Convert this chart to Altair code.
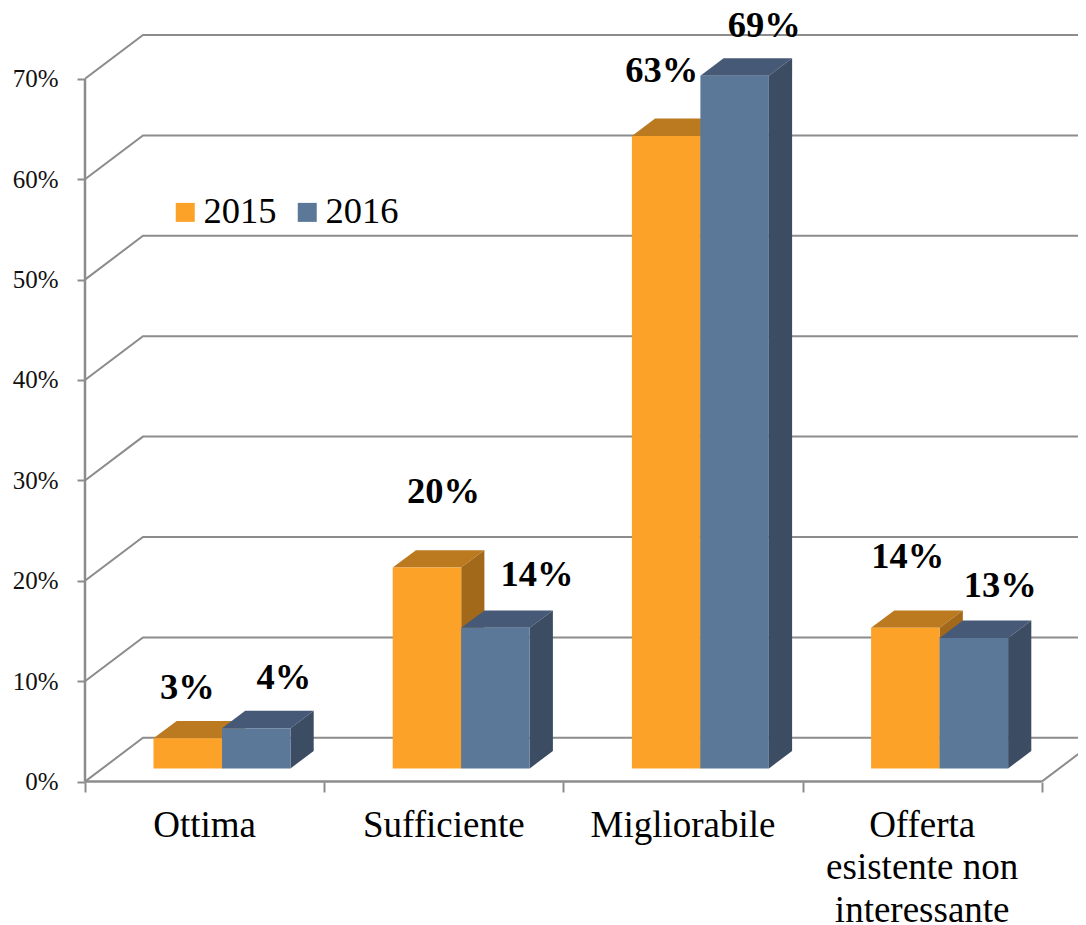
import altair as alt
import pandas as pd

# ---- chart values ----
categories = ["Ottima", "Sufficiente", "Migliorabile", "Offerta\nesistente non\ninteressante"]
years = ["2015", "2016"]
values_2015 = [3, 20, 63, 14]
values_2016 = [4, 14, 69, 13]
y_ticks = [0, 10, 20, 30, 40, 50, 60, 70]
x_ticks = [0, 1, 2, 3, 4]

# label nudges relative to each bar's top-back centre, in pixels (2015 then 2016 per category)
label_dx = {"2015": [-0.5, 16.5, -4.5, 2.5], "2016": [27.5, 41.5, 29.5, 26.5]}
label_dy = {"2015": [22, 47, 36, 42], "2016": [22, 24, 21, 23]}

# ---- look ----
PX_X = 239.2          # px per category
PX_Y = 10.04          # px per percent
W, H = 993, 774
XMAX = W / PX_X
YMIN = -0.04
YMAX = YMIN + H / PX_Y
DEPTH_X = 58 / PX_X   # wall depth
DEPTH_Y = 43.8 / PX_Y
BAR_LEFT = 68.5 / PX_X
BAR_W = 68.5 / PX_X
BAR_BASE = 13.2 / PX_Y
BAR_DX = 23.2 / PX_X
BAR_DY = 17.4 / PX_Y
GRAY = "#8C8C8C"
FONT = "Liberation Serif"
FRONT = {"2015": "#FCA228", "2016": "#5B7899"}
TOP = {"2015": "#BB7A1F", "2016": "#465A77"}
SIDE = {"2015": "#A2691A", "2016": "#3B4C63"}

xs = alt.Scale(domain=[0, XMAX], nice=False, zero=False)
ys = alt.Scale(domain=[YMIN, YMAX], nice=False, zero=False)
x_axis = alt.Axis(values=x_ticks, labels=False, domain=False, grid=False, title=None,
                  ticks=True, tickSize=10, tickColor=GRAY, tickWidth=2)
y_axis = alt.Axis(values=y_ticks, labelExpr="datum.value + '%'", domain=False, grid=False, title=None,
                  ticks=True, tickSize=8, tickColor=GRAY, tickWidth=2,
                  labelFont=FONT, labelFontSize=25, labelColor="#111111", labelPadding=19)
X = lambda f="x": alt.X(f"{f}:Q", scale=xs, axis=x_axis)
Y = lambda f="y": alt.Y(f"{f}:Q", scale=ys, axis=y_axis)

# ---- derived tables ----
series = {"2015": values_2015, "2016": values_2016}
fronts, polys, labels = [], [], []
pid = 0
for yi, yr in enumerate(years):
    for ci, v in enumerate(series[yr]):
        x0 = ci + BAR_LEFT + yi * BAR_W
        x1 = x0 + BAR_W
        y0 = BAR_BASE
        y1 = BAR_BASE + v
        fronts.append(dict(x=x0, x2=x1, y=y0, y2=y1, year=yr))
        top = [(x0, y1), (x1, y1), (x1 + BAR_DX, y1 + BAR_DY), (x0 + BAR_DX, y1 + BAR_DY), (x0, y1)]
        side = [(x1, y0), (x1 + BAR_DX, y0 + BAR_DY), (x1 + BAR_DX, y1 + BAR_DY), (x1, y1), (x1, y0)]
        for pts, col in ((top, TOP[yr]), (side, SIDE[yr])):
            for i, (px, py) in enumerate(pts):
                polys.append(dict(x=px, y=py, pid=pid, i=i, col=col))
            pid += 1
        labels.append(dict(
            x=(x0 + x1) / 2 + label_dx[yr][ci] / PX_X,
            y=y1 + BAR_DY + label_dy[yr][ci] / PX_Y,
            text=f"{v}%"))

grid = []
for t in y_ticks:
    for i, (px, py) in enumerate([(0, t), (DEPTH_X, t + DEPTH_Y), (XMAX, t + DEPTH_Y)]):
        grid.append(dict(x=px, y=py, t=t, i=i))
floor_right = [dict(x=4, y=0, i=0), dict(x=4 + DEPTH_X, y=DEPTH_Y, i=1)]
front_y = [dict(x=0, y=0, i=0), dict(x=0, y=y_ticks[-1], i=1)]
front_x = [dict(x=0, y=0, i=0), dict(x=4, y=0, i=1)]
cat_df = pd.DataFrame(dict(x=[i + 0.5 for i in range(4)], y=[-55.2 / PX_Y] * 4, text=categories))

# ---- layers ----
grid_l = alt.Chart(pd.DataFrame(grid)).mark_line(color=GRAY, strokeWidth=2, clip=True).encode(
    x=X(), y=Y(), detail="t:N", order="i:Q")
floor_l = alt.Chart(pd.DataFrame(floor_right)).mark_line(color=GRAY, strokeWidth=2, clip=True).encode(
    x=X(), y=Y(), order="i:Q")
fy_l = alt.Chart(pd.DataFrame(front_y)).mark_line(color=GRAY, strokeWidth=2.5).encode(
    x=X(), y=Y(), order="i:Q")
fx_l = alt.Chart(pd.DataFrame(front_x)).mark_line(color=GRAY, strokeWidth=2.5).encode(
    x=X(), y=Y(), order="i:Q")

poly_l = alt.Chart(pd.DataFrame(polys)).mark_line(strokeWidth=0, interpolate="linear").encode(
    x=X(), y=Y(), detail="pid:N", order="i:Q",
    fill=alt.Fill("col:N", scale=None))

front_l = alt.Chart(pd.DataFrame(fronts)).mark_rect(opacity=1).encode(
    x=X(), x2="x2:Q", y=Y(), y2="y2:Q",
    color=alt.Color("year:N", scale=alt.Scale(domain=years, range=[FRONT[y] for y in years]),
                    legend=alt.Legend(
                        title=None, orient="none", legendX=82, legendY=186, direction="horizontal",
                        symbolType="square", symbolSize=361, symbolStrokeWidth=0, symbolOpacity=1,
                        labelFont=FONT, labelFontSize=36.5, labelColor="#000000", labelOffset=0,
                        columnPadding=12, padding=0)),
)

label_l = alt.Chart(pd.DataFrame(labels)).mark_text(
    font=FONT, fontSize=36.5, fontWeight="bold", color="#000000", baseline="alphabetic", align="center"
).encode(x=X(), y=Y(), text="text:N")

cat_l = alt.Chart(cat_df).mark_text(
    font=FONT, fontSize=37, color="#000000", baseline="alphabetic", align="center",
    lineBreak="\n", lineHeight=42.5
).encode(x=X(), y=Y(), text="text:N")

chart = alt.layer(grid_l, floor_l, fy_l, fx_l, poly_l, front_l, label_l, cat_l).properties(
    width=W, height=H,
    autosize=alt.AutoSizeParams(type="none"),
    padding={"left": 77, "top": 0, "right": 0, "bottom": 150},
).configure_view(stroke=None)

chart.save("out.html", embed_options={"renderer": "svg", "actions": False})
